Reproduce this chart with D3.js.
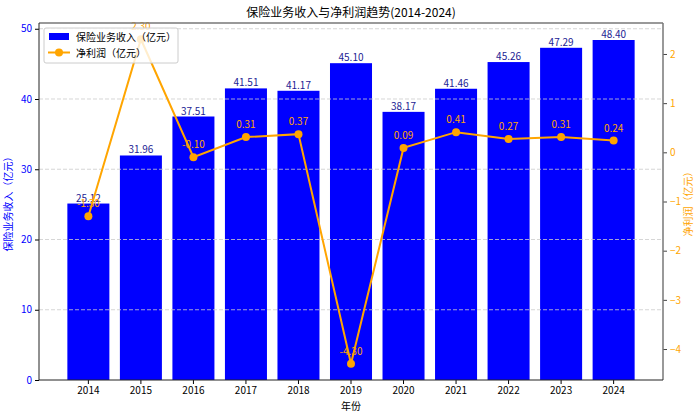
<!DOCTYPE html>
<html>
<head>
<meta charset="utf-8">
<script src="https://cdn.jsdelivr.net/npm/d3@7"></script>
<style>
  body { margin: 0; background: #fff; }
  text { font-family: "Noto Sans CJK SC", "DejaVu Sans", sans-serif; }
</style>
</head>
<body>
<div id="chart"></div>
<script>
// data
var years = [2014, 2015, 2016, 2017, 2018, 2019, 2020, 2021, 2022, 2023, 2024]
var income = [25.12, 31.96, 37.51, 41.51, 41.17, 45.10, 38.17, 41.46, 45.26, 47.29, 48.40]
var profit = [-1.30, 2.30, -0.10, 0.31, 0.37, -4.30, 0.09, 0.41, 0.27, 0.31, 0.24]
var leftTicks = [0, 10, 20, 30, 40, 50]
var rightTicks = [-4, -3, -2, -1, 0, 1, 2]

const colors = {
  bar: '#0000ff',
  barLabel: '#1c1c94',
  line: '#ffa500',
  grid: '#cccccc',
}

var W = 700, H = 418
var m = { l: 39, r: 663, t: 23, b: 380 }

var svg = d3.select("#chart").append("svg")
  .attr("width", W)
  .attr("height", H)

var x = d3.scaleBand()
  .domain(years)
  .range([m.l, m.r])
  .paddingInner(0.2)
  .paddingOuter(0.54)
var cx = function(d) { return x(d) + x.bandwidth() / 2 }

var yL = d3.scaleLinear().domain([0, 50.82]).range([m.b, m.t])
var pmin = d3.min(profit), pmax = d3.max(profit), pr = pmax - pmin
var yR = d3.scaleLinear().domain([pmin - 0.05 * pr, pmax + 0.05 * pr]).range([m.b, m.t])

// bars
svg.append("g").selectAll("rect")
  .data(years)
  .enter()
  .append("rect")
  .attr("x", function(d) { return x(d) })
  .attr("width", x.bandwidth())
  .attr("y", function(d, i) { return yL(income[i]) })
  .attr("height", function(d, i) { return m.b - yL(income[i]) })
  .attr("fill", colors.bar)

// grid (left axis only)
svg.append("g").selectAll("line")
  .data(leftTicks.slice(1))
  .enter()
  .append("line")
  .attr("x1", m.l).attr("x2", m.r)
  .attr("y1", function(d) { return yL(d) })
  .attr("y2", function(d) { return yL(d) })
  .attr("stroke", colors.grid)
  .attr("stroke-opacity", 0.8)
  .attr("stroke-dasharray", "4,2")

// bar labels
svg.append("g").selectAll("text")
  .data(years)
  .enter()
  .append("text")
  .attr("x", cx)
  .attr("y", function(d, i) { return yL(income[i]) - 2 })
  .attr("text-anchor", "middle")
  .attr("font-size", 10)
  .attr("fill", colors.barLabel)
  .text(function(d, i) { return income[i].toFixed(2) })

// profit line
var line = d3.line()
  .x(function(d, i) { return cx(years[i]) })
  .y(function(d) { return yR(d) })
svg.append("path")
  .datum(profit)
  .attr("d", line)
  .attr("fill", "none")
  .attr("stroke", colors.line)
  .attr("stroke-width", 2)
svg.append("g").selectAll("circle")
  .data(profit)
  .enter()
  .append("circle")
  .attr("cx", function(d, i) { return cx(years[i]) })
  .attr("cy", function(d) { return yR(d) })
  .attr("r", 4)
  .attr("fill", colors.line)
svg.append("g").selectAll("text")
  .data(profit)
  .enter()
  .append("text")
  .attr("x", function(d, i) { return cx(years[i]) })
  .attr("y", function(d) { return yR(d) - 9 })
  .attr("text-anchor", "middle")
  .attr("font-size", 10)
  .attr("fill", colors.line)
  .text(function(d) { return d.toFixed(2) })

// axes
var gx = svg.append("g")
  .attr("transform", "translate(0," + m.b + ")")
  .call(d3.axisBottom(x).tickSizeOuter(0).tickSize(4).tickPadding(3))
gx.selectAll("text").attr("font-size", 10).attr("fill", "#000")

var gl = svg.append("g")
  .attr("transform", "translate(" + m.l + ",0)")
  .call(d3.axisLeft(yL).tickValues(leftTicks).tickSizeOuter(0).tickSize(4).tickPadding(3))
gl.selectAll("text").attr("font-size", 10).attr("fill", colors.bar)

var gr = svg.append("g")
  .attr("transform", "translate(" + m.r + ",0)")
  .call(d3.axisRight(yR).tickValues(rightTicks).tickSizeOuter(0).tickSize(4).tickPadding(3)
    .tickFormat(function(d) { return d < 0 ? "\u2212" + Math.abs(d) : d }))
gr.selectAll("text").attr("font-size", 10).attr("fill", colors.line)
gr.selectAll(".tick line").attr("stroke", "#444")

svg.selectAll(".domain").remove()
// frame
svg.append("line").attr("x1", m.l).attr("x2", m.r).attr("y1", m.t).attr("y2", m.t)
  .attr("stroke", "#777").attr("stroke-width", 1.5)
svg.append("line").attr("x1", m.r).attr("x2", m.r).attr("y1", m.t).attr("y2", m.b)
  .attr("stroke", "#777").attr("stroke-width", 1.5)
svg.append("line").attr("x1", m.l).attr("x2", m.l).attr("y1", m.t).attr("y2", m.b)
  .attr("stroke", "#222").attr("stroke-width", 1)
svg.append("line").attr("x1", m.l).attr("x2", m.r).attr("y1", m.b).attr("y2", m.b)
  .attr("stroke", "#222").attr("stroke-width", 1)

// titles
svg.append("text")
  .attr("x", (m.l + m.r) / 2).attr("y", 17)
  .attr("text-anchor", "middle")
  .attr("font-size", 12)
  .text("保险业务收入与净利润趋势(2014-2024)")
svg.append("text")
  .attr("x", (m.l + m.r) / 2).attr("y", 410)
  .attr("text-anchor", "middle")
  .attr("font-size", 10)
  .text("年份")
svg.append("text")
  .attr("transform", "translate(12," + ((m.t + m.b) / 2) + ") rotate(-90)")
  .attr("text-anchor", "middle")
  .attr("font-size", 10)
  .attr("fill", colors.bar)
  .text("保险业务收入（亿元）")
svg.append("text")
  .attr("transform", "translate(692," + ((m.t + m.b) / 2) + ") rotate(-90)")
  .attr("text-anchor", "middle")
  .attr("font-size", 10)
  .attr("fill", colors.line)
  .text("净利润（亿元）")

// legend
var lg = svg.append("g").attr("transform", "translate(44,28)")
lg.append("rect")
  .attr("width", 134).attr("height", 35).attr("rx", 2)
  .attr("fill", "#fff").attr("fill-opacity", 0.8)
  .attr("stroke", "#ccc")
lg.append("rect")
  .attr("x", 5).attr("y", 5).attr("width", 20).attr("height", 7)
  .attr("fill", colors.bar)
lg.append("text").attr("x", 32).attr("y", 12.5).attr("font-size", 10).text("保险业务收入（亿元）")
lg.append("line")
  .attr("x1", 4).attr("x2", 26).attr("y1", 24.5).attr("y2", 24.5)
  .attr("stroke", colors.line).attr("stroke-width", 2)
lg.append("circle").attr("cx", 15).attr("cy", 24.5).attr("r", 4).attr("fill", colors.line)
lg.append("text").attr("x", 32).attr("y", 28.5).attr("font-size", 10).text("净利润（亿元）")
</script>
</body>
</html>
